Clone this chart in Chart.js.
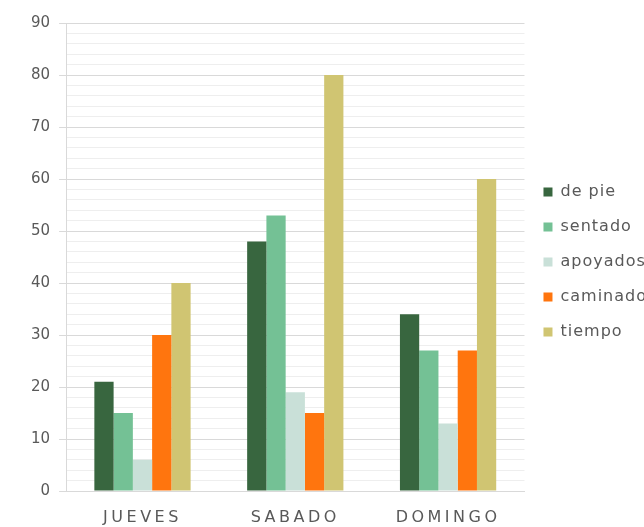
<!DOCTYPE html>
<html>
<head>
<meta charset="utf-8">
<script src="https://cdn.jsdelivr.net/npm/chart.js@4.4.0/dist/chart.umd.min.js"></script>
<style>
  html, body { margin: 0; padding: 0; background: #fff; }
  #wrap { width: 644px; height: 527px; }
</style>
</head>
<body>
<div id="wrap"><canvas id="myChart"></canvas></div>
<script>
const dias = ['JUEVES', 'SABADO', 'DOMINGO'];
const dePie = [21, 48, 34];
const sentado = [15, 53, 27];
const apoyados = [6, 19, 13];
const caminado = [30, 15, 27];
const tiempo = [40, 80, 60];
const yTicks = [0, 10, 20, 30, 40, 50, 60, 70, 80, 90];

const gris = '#595959';
const fuente = "'DejaVu Sans', sans-serif";

// espaciado de letras: etiquetas del eje x y la leyenda (la leyenda sube un poco)
const espaciado = {
  id: 'espaciado',
  beforeDraw(chart) {
    const ctx = chart.ctx;
    const envolver = (obj, nombre, esp, dy) => {
      if (!obj || obj[nombre]._env) return;
      const f = obj[nombre];
      const g = function (...a) {
        ctx.save();
        ctx.letterSpacing = esp;
        ctx.translate(0, dy);
        f.apply(this, a);
        ctx.restore();
      };
      g._env = true;
      obj[nombre] = g;
    };
    envolver(chart.scales.x, 'drawLabels', '3.5px', 0);
    envolver(chart.legend, 'draw', '1px', -13);
  }
};

new Chart(document.getElementById('myChart'), {
  type: 'bar',
  data: {
    labels: dias,
    datasets: [
      { label: 'de pie', data: dePie, backgroundColor: '#38663f' },
      { label: 'sentado', data: sentado, backgroundColor: '#74c195' },
      { label: 'apoyados', data: apoyados, backgroundColor: '#c9e0d8' },
      { label: 'caminado', data: caminado, backgroundColor: '#ff750e' },
      { label: 'tiempo', data: tiempo, backgroundColor: '#d0c572' }
    ]
  },
  options: {
    responsive: true,
    maintainAspectRatio: false,
    animation: false,
    layout: { padding: { top: 23, right: -5, left: 22, bottom: 0 } },
    datasets: { bar: { barPercentage: 1, categoryPercentage: 0.63 } },
    plugins: {
      legend: {
        position: 'right',
        labels: {
          boxWidth: 9, boxHeight: 9, padding: 19,
          color: gris,
          font: { family: fuente, size: 16 }
        }
      },
      tooltip: { enabled: false }
    },
    scales: {
      x: {
        afterFit(scale) { scale.height = 36; },
        grid: { display: false, drawTicks: false },
        border: { color: '#d9d9d9', width: 1 },
        ticks: { color: gris, padding: 17, font: { family: fuente, size: 16 } }
      },
      y: {
        min: 0, max: 90,
        afterBuildTicks(axis) {
          const t = [];
          for (let v = 0; v <= 90; v += 2) t.push({ value: v });
          axis.ticks = t;
        },
        grid: {
          color: c => c.tick && c.tick.value % 10 === 0 ? '#d9d9d9' : '#eeeeee',
          tickColor: c => c.tick && c.tick.value % 10 === 0 ? '#d9d9d9' : 'rgba(0,0,0,0)',
          tickLength: 7
        },
        border: { color: '#d9d9d9', width: 1 },
        ticks: {
          color: gris, padding: 9, autoSkip: false,
          font: { family: fuente, size: 15 },
          callback: v => yTicks.includes(v) ? String(v) : ''
        }
      }
    }
  },
  plugins: [espaciado]
});
</script>
</body>
</html>
